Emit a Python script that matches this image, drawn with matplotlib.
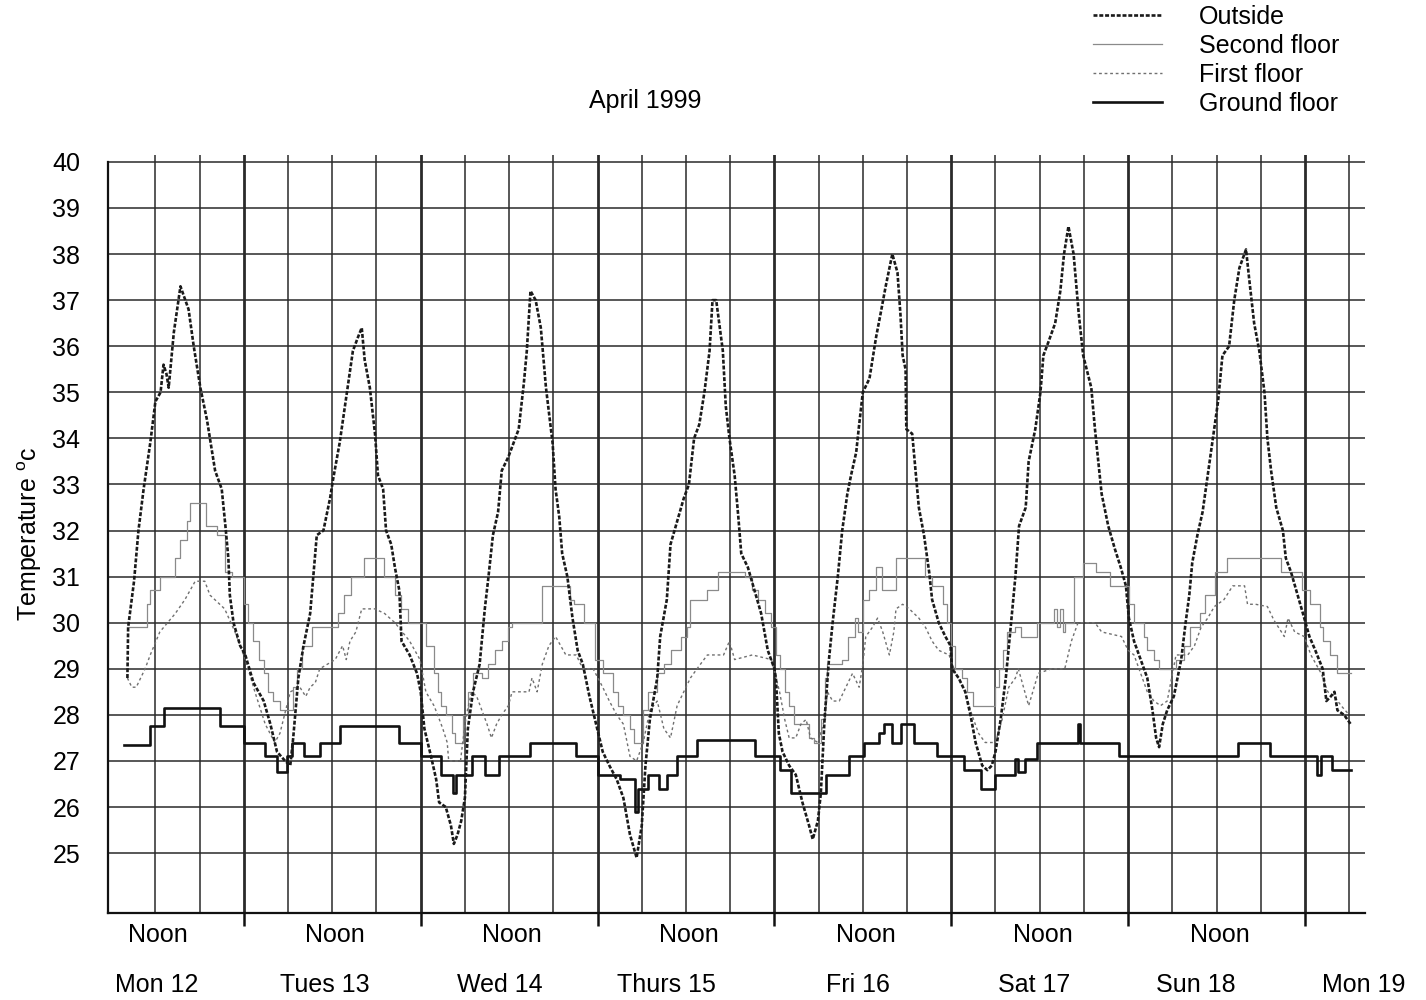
import numpy as np
import matplotlib
matplotlib.use("Agg")
import matplotlib.pyplot as plt
import matplotlib.transforms as mtransforms

plt.rcParams['font.family'] = ['Liberation Sans', 'DejaVu Sans']

# hours counted from Mon 12 April 1999, 00:00
outside_h = [8.2, 8.3, 9.1, 9.7, 10.4, 11.3, 12.0, 12.7, 13.1, 13.5, 13.8, 14.5, 15.4, 16.5, 17.2,
             18.1, 19.0, 19.7, 20.1, 21.0, 21.5, 21.9, 22.1, 22.6, 23.5, 24.2, 25.3, 26.7, 27.6,
             28.5, 29.6, 30.3, 30.7, 31.4, 32.1, 33.0, 33.9, 34.8, 35.7, 36.1, 37.0, 37.9, 38.8,
             39.5, 40.0, 40.4, 41.1, 41.8, 42.2, 42.9, 43.3, 44.0, 44.5, 45.1, 45.4, 46.5, 47.5,
             48.0, 48.5, 49.4, 50.1, 50.5, 51.4, 52.1, 52.5, 53.0, 53.5, 54.0, 54.4, 55.1, 56.0,
             56.7, 57.2, 57.8, 58.5, 59.0, 59.9, 60.6, 61.3, 62.0, 62.4, 62.9, 63.6, 64.3, 65.0,
             65.9, 66.3, 66.8, 67.2, 67.9, 68.6, 69.3, 70.0, 70.9, 71.8, 72.7, 73.6, 74.6, 75.5,
             76.4, 77.3, 78.0, 78.5, 79.1, 80.1, 80.5, 81.4, 81.9, 82.8, 83.7, 84.4, 85.1, 85.8,
             86.5, 87.2, 87.6, 88.1, 89.0, 89.4, 89.9, 90.6, 91.1, 91.5, 92.4, 93.3, 94.2, 95.1,
             96.0, 96.2, 96.6, 97.1, 98.0, 98.9, 99.8, 100.7, 101.2, 101.9, 102.3, 102.8, 103.4,
             103.9, 104.6, 105.2, 105.9, 106.4, 107.1, 107.5, 108.0, 108.9, 109.8, 110.4, 111.1,
             112.0, 112.7, 113.1, 113.4, 113.8, 113.9, 114.7, 115.2, 115.6, 116.3, 117.0, 117.4,
             118.3, 119.2, 119.9, 120.1, 121.0, 121.9, 122.6, 123.3, 124.2, 124.9, 125.5, 126.0,
             126.7, 127.4, 128.0, 128.7, 129.2, 130.1, 130.5, 131.4, 132.1, 132.5, 133.2, 134.1,
             134.8, 135.3, 135.9, 136.6, 137.3, 137.9, 139.0, 139.5, 140.4, 141.3, 142.2, 143.0,
             143.7, 144.1, 144.8, 145.7, 146.6, 147.3, 147.8, 148.2, 148.7, 149.3, 150.2, 151.2,
             151.8, 152.3, 152.7, 153.4, 154.1, 154.8, 155.5, 156.2, 156.8, 157.7, 158.4, 159.1,
             160.0, 160.4, 161.1, 161.8, 162.5, 162.9, 163.4, 164.1, 165.0, 165.4, 166.1, 167.0,
             167.9, 168.6, 169.4, 170.4, 170.9, 171.5, 172.0, 172.4, 173.3, 174.2]
outside_t = [28.8, 29.9, 30.9, 32.0, 32.9, 33.9, 34.8, 35.0, 35.6, 35.4, 35.1, 36.3, 37.3, 36.8, 36.0,
             35.1, 34.4, 33.7, 33.3, 32.9, 32.1, 31.4, 30.6, 30.0, 29.5, 29.3, 28.7, 28.3, 27.8,
             27.2, 27.0, 26.9, 27.5, 28.8, 29.5, 30.2, 31.9, 32.0, 32.7, 33.1, 33.9, 34.9, 35.9,
             36.2, 36.4, 35.7, 35.1, 34.1, 33.2, 32.9, 32.0, 31.7, 31.2, 30.7, 29.6, 29.3, 28.9,
             28.5, 27.7, 27.1, 26.6, 26.1, 26.0, 25.6, 25.2, 25.4, 25.7, 26.2, 27.7, 28.5, 29.1,
             30.3, 31.0, 31.9, 32.4, 33.3, 33.6, 33.9, 34.2, 35.2, 35.9, 37.2, 37.0, 36.4, 35.1,
             33.9, 32.9, 32.3, 31.5, 31.0, 30.1, 29.4, 29.1, 28.4, 27.8, 27.2, 26.9, 26.6, 26.2,
             25.4, 24.9, 25.6, 26.9, 27.9, 28.8, 29.7, 30.5, 31.7, 32.2, 32.7, 33.0, 34.0, 34.3,
             35.0, 35.9, 37.0, 37.0, 35.9, 34.7, 34.0, 33.2, 32.3, 31.5, 31.2, 30.7, 30.2, 29.4,
             29.0, 28.8, 27.6, 27.2, 26.9, 26.7, 26.1, 25.6, 25.3, 25.7, 26.3, 27.9, 29.2,
             30.0, 31.0, 32.0, 32.8, 33.2, 33.7, 34.3, 35.0, 35.3, 36.2, 36.7, 37.3,
             38.0, 37.6, 36.7, 35.8, 35.5, 34.2, 34.1, 33.2, 32.5, 31.9, 31.1, 30.5,
             30.0, 29.7, 29.5, 29.0, 28.8, 28.5, 28.0, 27.4, 26.9, 26.8, 26.9, 27.2,
             27.9, 28.8, 29.8, 31.0, 32.1, 32.5, 33.5, 34.2, 35.0, 35.8, 36.1, 36.5,
             37.2, 38.0, 38.6, 38.0, 36.7, 35.8, 35.1, 34.2, 32.8, 32.1, 31.6, 31.2,
             30.8, 30.1, 29.6, 29.2, 28.8, 28.1, 27.5, 27.3, 27.8, 28.1, 28.4, 29.2,
             30.0, 30.6, 31.3, 31.9, 32.4, 33.2, 34.0, 34.8, 35.8, 36.0, 37.0, 37.7,
             38.1, 37.5, 36.5, 35.9, 35.0, 34.0, 33.3, 32.5, 32.0, 31.4, 31.1, 30.6,
             30.1, 29.7, 29.4, 29.0, 28.3, 28.4, 28.5, 28.1, 28.0, 27.8]

second_h = [8.2, 10.9, 11.3, 12.6, 14.7, 15.4, 16.3, 16.7, 18.8, 20.3, 21.5, 22.4, 24.0, 24.6, 25.3,
            26.0, 26.7, 27.3, 28.0, 28.9, 30.7, 31.2, 31.9, 33.3, 36.8, 37.6, 38.5, 40.3, 43.0,
            44.5, 45.3, 46.3, 48.7, 49.8, 50.3, 50.7, 51.4, 52.3, 52.7, 53.7, 54.4, 55.1, 56.3,
            57.2, 58.1, 59.0, 59.9, 60.4, 64.5, 68.2, 68.8, 70.2, 71.6, 72.7, 74.1, 74.8, 75.5,
            76.4, 76.9, 78.2, 78.9, 80.1, 81.0, 81.9, 83.3, 84.2, 84.6, 86.9, 88.3, 92.0, 92.9,
            93.8, 94.7, 95.6, 96.2, 96.7, 97.4, 98.0, 98.7, 100.7, 101.4, 102.3, 102.8, 103.2,
            105.2, 106.0, 106.9, 107.4, 108.0, 108.9, 109.8, 110.6, 112.5, 116.5, 117.4, 118.9,
            119.4, 120.0, 120.5, 121.5, 122.2, 122.9, 126.0, 126.5, 127.0, 127.6, 128.7, 129.4,
            131.6, 133.9, 134.3, 134.7, 135.1, 135.5, 136.6, 137.9, 139.7, 141.6, 144.1, 144.8,
            146.2, 146.6, 147.5, 148.2, 150.5, 151.6, 152.4, 153.8, 154.4, 155.8, 157.4, 164.7,
            167.6, 168.7, 170.1, 170.5, 171.4, 172.3, 174.2]
second_t = [29.9, 30.4, 30.7, 31.0, 31.4, 31.8, 32.2, 32.6, 32.1, 31.9, 31.1, 31.0, 30.4, 30.0, 29.6,
            29.2, 28.9, 28.5, 28.3, 28.1, 28.6, 29.0, 29.5, 29.9, 30.2, 30.6, 31.0, 31.4, 31.0,
            30.6, 30.3, 30.0, 29.5, 28.9, 28.5, 28.2, 28.0, 27.6, 27.4, 28.0, 28.5, 28.9, 28.8,
            29.1, 29.4, 29.6, 29.9, 30.0, 30.8, 30.5, 30.4, 30.0, 29.2, 28.9, 28.5, 28.2, 28.0,
            27.7, 27.4, 28.1, 28.5, 28.9, 29.1, 29.4, 29.7, 29.9, 30.5, 30.7, 31.1, 31.0, 30.7,
            30.5, 30.2, 29.9, 29.3, 29.0, 28.5, 28.2, 27.8, 27.5, 27.4, 27.9, 28.8, 29.1,
            29.2, 29.7, 30.1, 29.8, 30.5, 30.7, 31.2, 30.7, 31.4, 31.0, 30.8, 30.4,
            30.0, 29.5, 29.0, 28.8, 28.5, 28.2, 28.6, 29.0, 29.4, 29.8, 29.9, 29.7,
            30.0, 30.3, 29.9, 30.3, 29.8, 30.0, 31.0, 31.3, 31.1, 30.8, 30.4, 30.0,
            29.7, 29.4, 29.2, 29.0, 29.2, 29.5, 29.9, 30.2, 30.6, 31.1, 31.4, 31.1,
            30.7, 30.4, 29.9, 29.6, 29.3, 28.9, 28.9]

first_h = [8.2, 8.8, 9.4, 10.6, 11.3, 12.6, 14.7, 16.0, 17.4, 18.7, 19.4, 21.4, 22.8, 24.2, 25.5,
           26.9, 28.2, 28.9, 30.3, 31.6, 32.4, 33.0, 33.7, 34.3, 36.4, 37.4, 37.9, 38.4, 39.2,
           40.0, 41.8, 43.1, 44.5, 46.5, 47.9, 48.7, 49.8, 50.3, 51.0, 51.6, 51.8, 53.4, 53.7,
           54.2, 54.9, 55.6, 56.3, 57.0, 57.6, 58.3, 59.0, 59.9, 60.4, 62.7, 63.1, 63.8, 64.5,
           65.4, 66.3, 67.7, 69.1, 70.0, 71.4, 72.7, 73.6, 74.6, 75.5, 76.4, 77.3, 78.2, 79.1,
           80.1, 81.0, 81.9, 82.8, 83.7, 84.6, 85.5, 86.9, 89.1, 89.9, 90.6, 93.0, 95.6, 96.7,
           97.4, 98.0, 98.9, 99.6, 100.3, 100.9, 101.9, 102.8, 103.2, 103.9, 104.8, 105.7, 106.6,
           107.5, 108.0, 108.4, 109.3, 110.0, 110.7, 111.6, 112.2, 112.5, 113.4, 114.3, 115.6,
           116.5, 117.4, 118.3, 119.7, 120.6, 121.9, 122.8, 123.7, 124.6, 126.0, 126.9, 127.8,
           128.7, 129.1, 130.5, 131.8, 133.6, 135.4, 136.3, 137.2, 139.5, 140.4, 143.1, 144.0,
           144.8, 145.7, 146.6, 147.5, 148.4, 149.3, 150.5, 152.1, 153.0, 153.9, 154.8, 155.7,
           157.0, 158.2, 159.8, 160.2, 161.3, 162.9, 163.8, 165.2, 165.7, 166.6, 167.9, 168.8,
           170.2, 171.1, 172.0, 172.9, 174.0]
first_t = [28.8, 28.6, 28.6, 29.0, 29.3, 29.8, 30.2, 30.5, 30.9, 30.9, 30.6, 30.3, 29.8, 29.2, 28.5,
           27.8, 27.4, 27.6, 28.5, 28.6, 28.4, 28.6, 28.7, 29.0, 29.2, 29.5, 29.2, 29.6, 29.8,
           30.3, 30.3, 30.2, 30.0, 29.6, 29.2, 28.5, 28.2, 28.0, 27.7, 27.4, 27.0, 27.0, 27.4,
           28.0, 28.5, 28.4, 28.1, 27.8, 27.5, 27.8, 28.0, 28.2, 28.5, 28.5, 28.8, 28.5, 29.1,
           29.5, 29.7, 29.3, 29.3, 29.0, 29.0, 28.6, 28.3, 28.0, 27.8, 27.1, 27.0, 27.4, 28.1,
           28.3, 27.7, 27.5, 28.2, 28.5, 28.8, 29.0, 29.3, 29.3, 29.6, 29.2, 29.3, 29.2, 28.5,
           27.9, 27.5, 27.5, 27.8, 27.9, 27.5, 27.4, 27.9, 28.5, 28.3, 28.3, 28.6, 28.9,
           28.6, 29.1, 29.7, 29.9, 30.1, 29.8, 29.3, 29.8, 30.3, 30.4, 30.3, 30.1,
           29.9, 29.6, 29.4, 29.3, 28.9, 28.5, 28.0, 27.6, 27.4, 27.4, 27.9, 28.6,
           28.8, 29.0, 28.2, 28.9, 29.0, 29.0, 29.6, 30.0, 30.0, 29.8, 29.7, 29.4,
           29.3, 28.9, 28.5, 28.3, 28.2, 28.3, 29.3, 29.3, 29.5, 29.9, 30.1, 30.35,
           30.5, 30.8, 30.8, 30.4, 30.4, 30.35, 30.05, 29.7, 30.1, 29.8, 29.7, 29.3,
           28.9, 28.5, 28.4, 28.2, 28.0]

ground_h = [7.7, 11.3, 13.1, 20.8, 24.0, 26.9, 28.5, 29.8, 30.5, 32.1, 34.3, 37.0, 45.1, 48.0, 50.7,
            52.4, 52.8, 54.9, 56.7, 58.6, 62.9, 69.1, 72.0, 75.0, 77.1, 77.5, 78.8, 80.3, 81.4,
            82.8, 85.5, 93.3, 96.7, 98.3, 103.0, 106.1, 108.2, 110.2, 110.9, 111.9, 113.2, 115.0,
            118.1, 121.7, 124.0, 126.0, 128.7, 129.1, 130.0, 131.6, 137.2, 137.5, 142.8, 158.9,
            163.2, 169.6, 170.2, 171.7, 174.2]
ground_t = [27.35, 27.75, 28.15, 27.75, 27.4, 27.1, 26.75, 27.1, 27.4, 27.1, 27.4, 27.75, 27.4, 27.1, 26.7,
            26.3, 26.7, 27.1, 26.7, 27.1, 27.4, 27.1, 26.7, 26.6, 25.9, 26.4, 26.7, 26.4, 26.7,
            27.1, 27.45, 27.1, 26.8, 26.3, 26.7, 27.1, 27.4, 27.6, 27.8, 27.4, 27.8, 27.4,
            27.1, 26.8, 26.4, 26.7, 27.05, 26.75, 27.05, 27.4, 27.8, 27.4, 27.1, 27.4,
            27.1, 26.7, 27.1, 26.8, 26.8]

noon_hours = [12, 36, 60, 84, 108, 132, 156]
day_labels = ['Mon 12', 'Tues 13', 'Wed 14', 'Thurs 15', 'Fri 16', 'Sat 17', 'Sun 18', 'Mon 19']
day_label_hours = [12.2, 35.0, 58.8, 81.4, 107.3, 131.3, 153.2, 176.0]
y_ticks = list(range(25, 41))

fs = 18

fig = plt.figure(figsize=(14.26, 10), dpi=100)
ax = fig.add_axes([0.0757, 0.087, 0.957 - 0.0757, 0.845 - 0.087])
ax.set_xlim(5.56, 176.1)
ax.set_ylim(23.70, 40.15)

grid_col = '#2a2a2a'
for t in y_ticks:
    ax.axhline(t, color=grid_col, lw=1.1, zorder=1)
for h in range(12, 175, 6):
    ax.axvline(h, color=grid_col, lw=2.0 if h % 24 == 0 else 1.1, zorder=1)

ax.plot(second_h, second_t, drawstyle='steps-post', color='#8a8a8a', lw=0.9, zorder=3,
        label='Second floor')
ax.plot(first_h, first_t, color='#707070', lw=1.0, ls=(0, (2.0, 2.0)), zorder=3,
        label='First floor')
ax.plot(ground_h, ground_t, drawstyle='steps-post', color='#111111', lw=1.9, zorder=4,
        label='Ground floor')
ax.plot(outside_h, outside_t, color='#1a1a1a', lw=1.9, ls=(0, (1.5, 0.7)), zorder=5,
        label='Outside')

for s in ['top', 'right']:
    ax.spines[s].set_visible(False)
for s in ['left', 'bottom']:
    ax.spines[s].set_linewidth(1.6)
    ax.spines[s].set_color('#111111')
ax.spines['left'].set_bounds(23.70, 40)

ax.set_yticks(y_ticks)
ax.set_yticklabels([str(t) for t in y_ticks], fontsize=fs)
ax.tick_params(axis='y', length=0, pad=20)
ax.set_xticks(list(range(24, 169, 24)))
ax.tick_params(axis='x', length=9, width=1.8, direction='out', labelbottom=False, color='#111111')

trans = mtransforms.blended_transform_factory(ax.transData, ax.transAxes)
for h in noon_hours:
    ax.text(h + 0.4, -0.029, 'Noon', transform=trans, ha='center', va='center', fontsize=fs)
for h, lab in zip(day_label_hours, day_labels):
    ax.text(h, -0.095, lab, transform=trans, ha='center', va='center', fontsize=fs)

ax.set_ylabel('Temperature $^{\\mathregular{o}}$c', fontsize=fs, labelpad=6)
fig.text(645 / 1426, 1 - 101 / 1000, 'April 1999', ha='center', va='center', fontsize=fs)

handles, labels = ax.get_legend_handles_labels()
order = [3, 0, 1, 2]
fig.legend([handles[i] for i in order], [labels[i] for i in order], loc='upper left',
           bbox_to_anchor=(1078 / 1426, 1.010), frameon=False, fontsize=fs, borderpad=0.1,
           handlelength=2.75, handletextpad=1.5, labelspacing=0.2)

fig.savefig('out.png', dpi=100)
